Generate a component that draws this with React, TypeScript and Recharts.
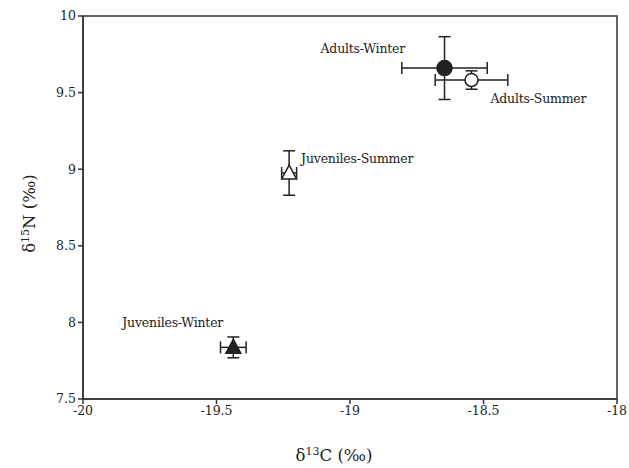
import { ScatterChart, Scatter, XAxis, YAxis, ErrorBar, ReferenceArea } from 'recharts'

const groups = ['Adults-Winter', 'Adults-Summer', 'Juveniles-Summer', 'Juveniles-Winter']
const d13C = [-18.646, -18.545, -19.228, -19.437]
const d15N = [9.66, 9.582, 8.975, 7.837]
const d13CErr = [0.16, 0.136, 0.028, 0.048]
const d15NErr = [0.205, 0.06, 0.145, 0.068]
const xTicks = [-20, -19.5, -19, -18.5, -18]
const yTicks = [7.5, 8, 8.5, 9, 9.5, 10]

// marker look + where each group's name sits relative to its point
const markers = [
  { shape: 'circle', filled: true, dx: -124, dy: -15 },
  { shape: 'circle', filled: false, dx: 19, dy: 23 },
  { shape: 'triangle', filled: false, dx: 12, dy: -10 },
  { shape: 'triangle', filled: true, dx: -111, dy: -20 },
]

const ink = '#222'
const font = 'DejaVu Serif'

function makeShape(i: number) {
  const m = markers[i]
  return (props: any) => {
    const { cx, cy } = props
    const fill = m.filled ? ink : '#fff'
    return (
      <g>
        {m.shape === 'circle' ? (
          <circle cx={cx} cy={cy} r={m.filled ? 7.5 : 6.5} fill={fill} stroke={ink} strokeWidth={1.5} />
        ) : (
          <polygon
            points={`${cx},${cy - 8} ${cx - 7.5},${cy + 6} ${cx + 7.5},${cy + 6}`}
            fill={fill}
            stroke={ink}
            strokeWidth={1.5}
          />
        )}
        <text x={cx + m.dx} y={cy + m.dy} fontSize={12.5} fill={ink} fontFamily={font} letterSpacing={-0.2}>
          {groups[i]}
        </text>
      </g>
    )
  }
}

export default function App() {
  const series = groups.map((g, i) => ({
    name: g,
    data: [{ x: d13C[i], y: d15N[i], ex: d13CErr[i], ey: d15NErr[i] }],
  }))

  return (
    <div style={{ position: 'absolute', left: 0, top: 0, background: '#fff' }}>
      <ScatterChart width={629} height={468} margin={{ top: 16, right: 12, bottom: 0, left: 0 }}>
        <XAxis
          type="number"
          dataKey="x"
          domain={[-20, -18]}
          ticks={xTicks}
          allowDataOverflow
          height={69}
          stroke="#333"
          strokeWidth={1.5}
          tickSize={5}
          tick={{ fill: ink, fontSize: 12.5, fontFamily: font }}
          label={(p: any) => {
            const vb = p.viewBox
            return (
              <text x={vb.x + vb.width / 2 - 16} y={vb.y + 62} textAnchor="middle" fontSize={16.5} fill={ink} fontFamily={font}>
                δ<tspan dy={-6} fontSize={11}>13</tspan>
                <tspan dy={6}>C (‰)</tspan>
              </text>
            )
          }}
        />
        <YAxis
          type="number"
          dataKey="y"
          domain={[7.5, 10]}
          ticks={yTicks}
          allowDataOverflow
          width={83}
          stroke="#333"
          strokeWidth={1.5}
          tickSize={5}
          tick={{ fill: ink, fontSize: 12.5, fontFamily: font }}
          label={(p: any) => {
            const vb = p.viewBox
            const cx = 35
            const cy = vb.y + vb.height / 2 + 6
            return (
              <text x={cx} y={cy} transform={`rotate(-90 ${cx} ${cy})`} textAnchor="middle" fontSize={16.5} fill={ink} fontFamily={font}>
                δ<tspan dy={-6} fontSize={11}>15</tspan>
                <tspan dy={6}>N (‰)</tspan>
              </text>
            )
          }}
        />
        <ReferenceArea x1={-20} x2={-18} y1={7.5} y2={10} fill="none" stroke="#333" strokeWidth={1.5} />
        {series.map((s, i) => (
          <Scatter key={s.name} name={s.name} data={s.data} shape={makeShape(i)} isAnimationActive={false}>
            <ErrorBar dataKey="ex" direction="x" width={6} stroke={ink} strokeWidth={1.5} />
            <ErrorBar dataKey="ey" direction="y" width={6} stroke={ink} strokeWidth={1.5} />
          </Scatter>
        ))}
      </ScatterChart>
    </div>
  )
}
